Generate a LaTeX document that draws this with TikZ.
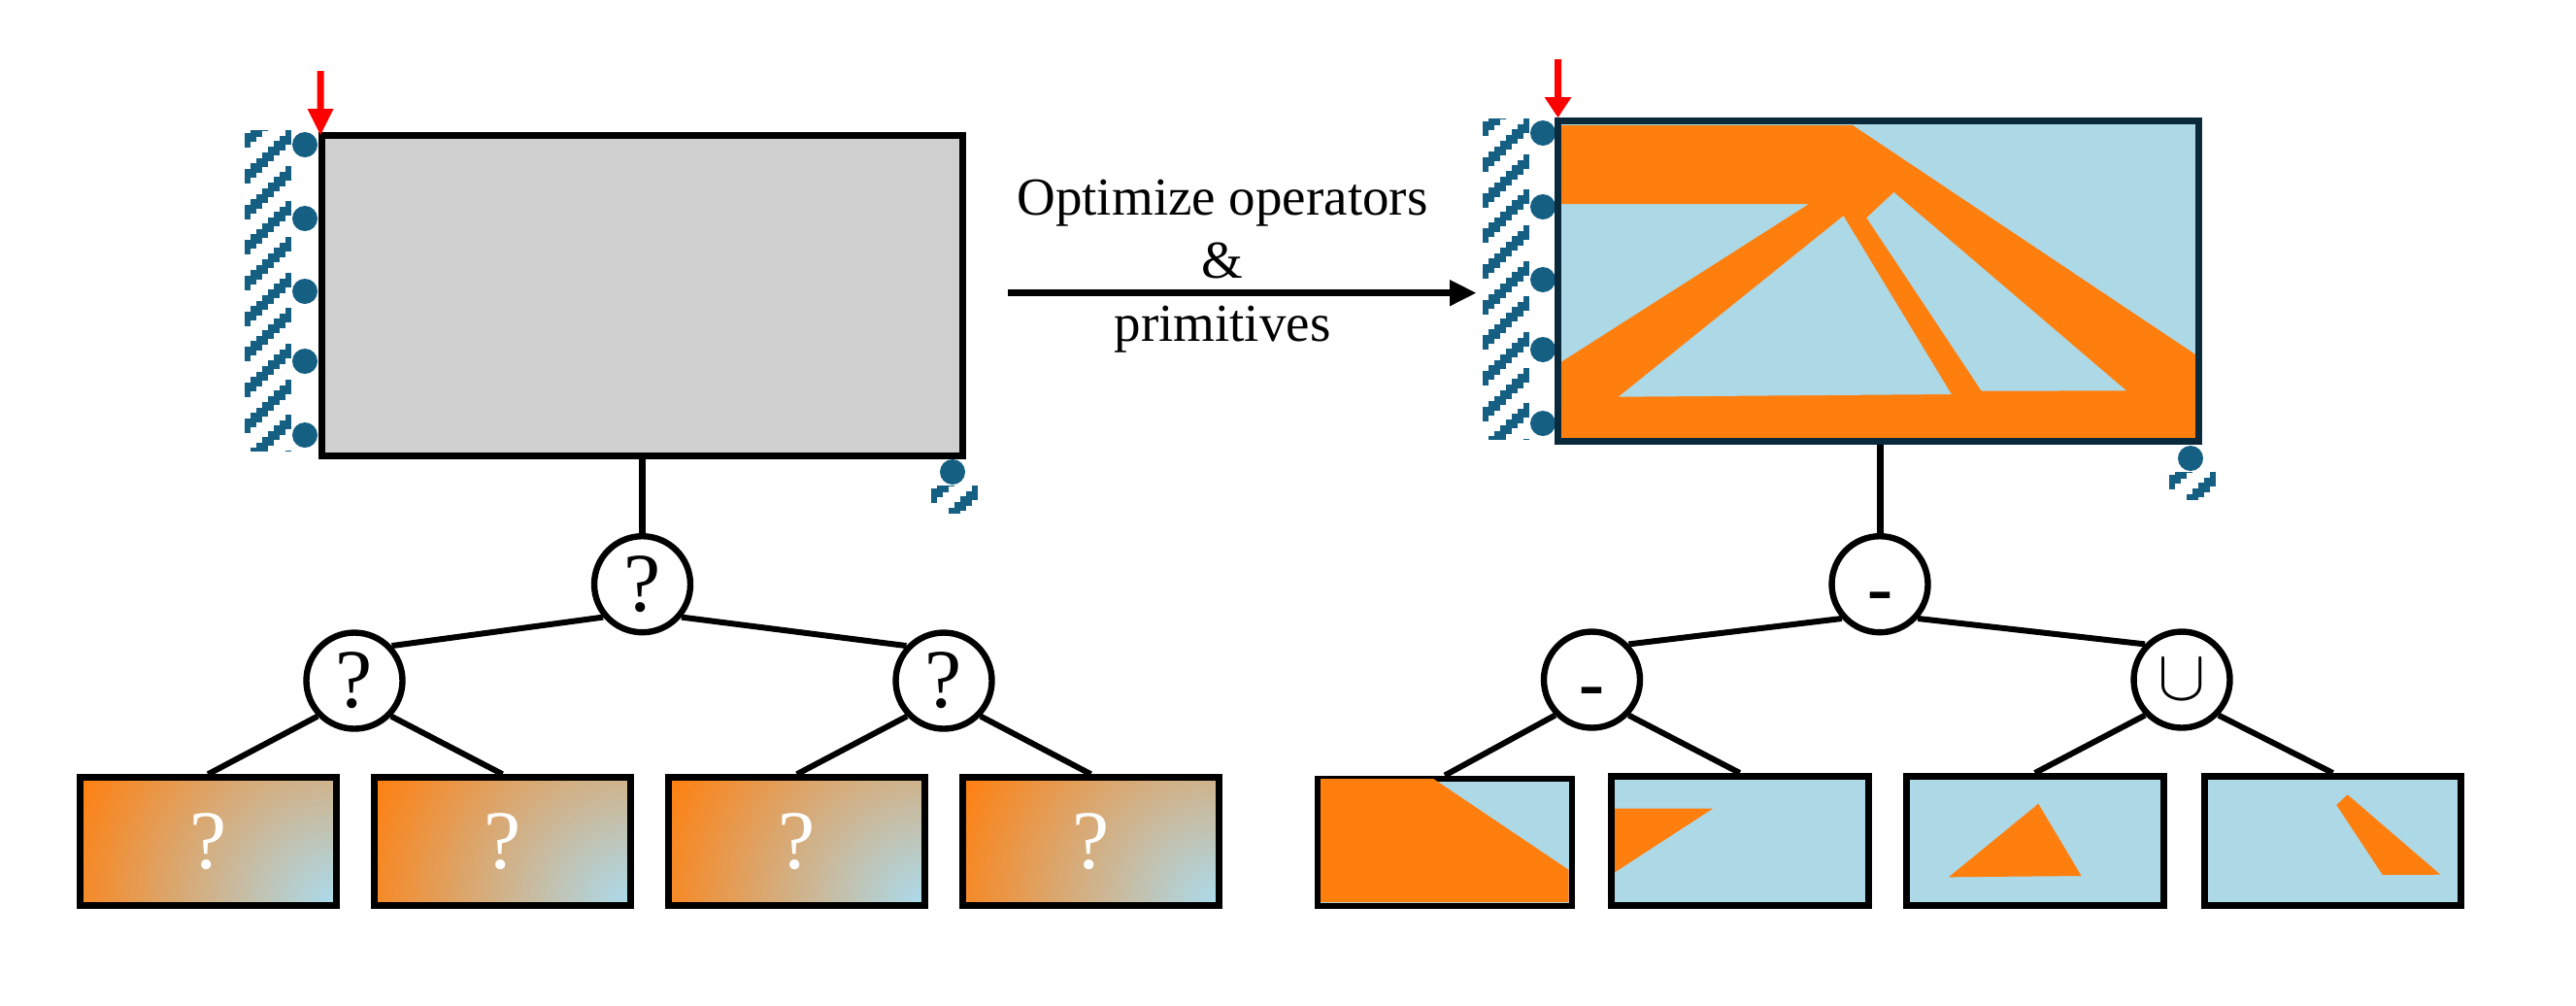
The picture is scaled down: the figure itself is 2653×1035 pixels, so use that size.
\documentclass[tikz,border=0pt]{standalone}
\usepackage{fontspec}
\setmainfont{Liberation Serif}
\newfontfamily\hyphfont{Liberation Sans}
\definecolor{orng}{HTML}{FF7F0E}
\definecolor{ltblue}{HTML}{ADD8E6}
\definecolor{grayfill}{HTML}{D0D0D0}
\definecolor{suppblue}{HTML}{155F83}
\definecolor{navyline}{HTML}{0A2A3C}
\pgfdeclareradialshading{leafrad}{\pgfpoint{0bp}{0bp}}{
  color(0bp)=(ltblue); color(1bp)=(ltblue); color(25bp)=(orng); color(50bp)=(orng)}
\tikzset{
  x=0.5pt,y=-0.5pt,
  every node/.style={inner sep=0pt},
  panel/.style={draw=black,line width=3.5pt,minimum width=330pt,minimum height=165pt,rectangle},
  leafbox/.style={draw=black,line width=3.5pt,minimum width=132pt,minimum height=66pt,rectangle},
  leafgradbox/.style={leafbox,path picture={
    \shade[shading=leafrad] (path picture bounding box.south east) circle[radius=147pt];}},
  opcircle/.style={circle,draw=black,fill=white,line width=3.2pt,minimum size=49.5pt},
  edge/.style={draw=black,line width=3pt},
  trunk/.style={draw=black,line width=3.5pt},
  qmark/.style={font=\fontsize{43}{43}\selectfont},
  minus/.style={font=\hyphfont\fontsize{42}{42}\selectfont,text height=33.5pt,text depth=0pt},
  redarrow/.style={fill=red,draw=none},
  pin/.style={circle,fill=suppblue,minimum size=13pt,draw=none},
  labeltext/.style={font=\fontsize{27.5}{27.5}\selectfont,anchor=base},
}
% staircase hatching: clip box (#1,#2)-(#3,#4), #5 = list of top y at the right end
\newcommand{\hatchband}[5]{%
  \begin{scope}
    \clip (#1,#2) rectangle (#3,#4);
    \foreach \ty in {#5}{
      \foreach \j in {0,...,7}{
        \fill[suppblue] ({#3-6*\j-6},{\ty+5.7*\j}) rectangle ({#3-6*\j+0.4},{\ty+5.7*\j+15});
      }
    }
  \end{scope}}
\begin{document}
\begin{tikzpicture}
\useasboundingbox (0,0) rectangle (2653,1035);
\fill[white] (0,0) rectangle (2653,1035);

%--- left panel
\hatchband{252}{134}{300}{464}{97,134,171,207,244,281,317,354,391,427,464}
\foreach \n/\y in {a/149,b/225,c/300,d/372,e/448}
  \node[pin] (lp\n) at (314,\y) {};
\node[panel,fill=grayfill] (lbox) at (661.5,304) {};
\coordinate (ltip) at (330,139);
\fill[redarrow] (326.5,73) -- (333.5,73) -- (333.5,112) -- (343.5,112) -- (ltip) -- (316.5,112) -- (326.5,112) -- cycle;
\hatchband{959}{500}{1007}{528}{463,500}
\node[pin] (lpf) at (981,486) {};

%--- left tree
\node[opcircle,qmark] (lr) at (661.5,601.7) {?};
\node[opcircle,qmark] (ll) at (365,701) {?};
\node[opcircle,qmark] (lq) at (972,701) {?};
\foreach \n/\x in {1/214.25,2/517.5,3/820.75,4/1123.5}
  \node[leafgradbox,qmark,text=white] (lf\n) at (\x,866.75) {?};
\draw[trunk] (lr.north) -- (lr.north |- lbox.south);
\draw[edge] (lr.220) -- (ll.43);
\draw[edge] (lr.320) -- (lq.137);
\draw[edge] (ll.224) -- (lf1.north);
\draw[edge] (ll.316) -- (lf2.north);
\draw[edge] (lq.224) -- (lf3.north);
\draw[edge] (lq.316) -- (lf4.north);

%--- centre arrow and label
\node[labeltext] (t1) at (1259,221) {Optimize operators};
\node[labeltext] (t2) at (1259,286.7) {\&};
\node[labeltext] (t3) at (1259,351.7) {primitives};
\coordinate (cs) at (1038,301.7);
\coordinate (ce) at (1520,301.7);
\coordinate (cb) at (1493,301.7);
\draw[line width=3.5pt] (cs) -- (cb);
\fill (ce) -- (1493,288) -- (1493,315.4) -- cycle;

%--- right panel
\hatchband{1527}{122}{1575}{452}{85,122,159,195,232,269,305,342,379,415,452}
\foreach \n/\y in {a/137,b/213,c/288,d/360,e/436}
  \node[pin] (rp\n) at (1589,\y) {};
\fill[ltblue] (1604.5,125) rectangle (2264.5,454.5);
\fill[orng] (1608,129) -- (1908,129) -- (2261,365) -- (2261,451) -- (1608,451) -- (1608,372.7) -- (1863,210) -- (1608,210) -- cycle;
\fill[ltblue] (1898.5,222.3) -- (2009.7,406) -- (1666.8,408.7) -- cycle;
\fill[ltblue] (1950.5,198) -- (2189.8,402.3) -- (2040.8,402.7) -- (1922.4,224.3) -- cycle;
\node[panel,draw=navyline] (rbox) at (1934.5,289.75) {};
\fill[redarrow] (1601,61) -- (1608,61) -- (1608,100) -- (1618.5,100) -- (1604.5,121) -- (1590.5,100) -- (1601,100) -- cycle;
\hatchband{2234}{486}{2282}{514}{449,486}
\node[pin] (rpf) at (2256,472) {};

%--- right tree
\node[opcircle,minus] (rr) at (1936,601.7) {-};
\node[opcircle,minus] (rl) at (1639.5,700) {-};
\node[opcircle] (rq) at (2247,700) {\scalebox{3.7}{$\cup$}};

% leaf 1
\fill[ltblue] (1357,801.5) rectangle (1619,932.5);
\node[leafbox,minimum width=131pt,minimum height=65.5pt,line width=3pt] (rf1) at (1488,867) {};
\fill[orng] (1360,802) -- (1476.3,802) -- (1615.5,895.7) -- (1615.5,929) -- (1360,929) -- cycle;
% leaf 2
\fill[ltblue] (1659.5,799.5) rectangle (1924,932.5);
\fill[orng] (1663,832.7) -- (1764,832.7) -- (1663,898.3) -- cycle;
\node[leafbox,minimum width=132.25pt,minimum height=66.5pt] (rf2) at (1791.75,866) {};
% leaf 3
\fill[ltblue] (1963.5,799.5) rectangle (2228,932.5);
\fill[orng] (2099.3,827.7) -- (2143.5,902) -- (2006.8,903.3) -- cycle;
\node[leafbox,minimum width=132.25pt,minimum height=66.5pt] (rf3) at (2095.75,866) {};
% leaf 4
\fill[ltblue] (2270.5,799.5) rectangle (2534.5,932.5);
\fill[orng] (2417.6,818.3) -- (2513.3,900.7) -- (2453.8,901) -- (2406.3,829) -- cycle;
\node[leafbox,minimum width=132pt,minimum height=66.5pt] (rf4) at (2402.5,866) {};

\draw[trunk] (rr.north) -- (rr.north |- rbox.south);
\draw[edge] (rr.222) -- (rl.44);
\draw[edge] (rr.318) -- (rq.136);
\draw[edge] (rl.224) -- (rf1.north);
\draw[edge] (rl.316) -- (rf2.north);
\draw[edge] (rq.224) -- (rf3.north);
\draw[edge] (rq.316) -- (rf4.north);
\end{tikzpicture}
\end{document}
